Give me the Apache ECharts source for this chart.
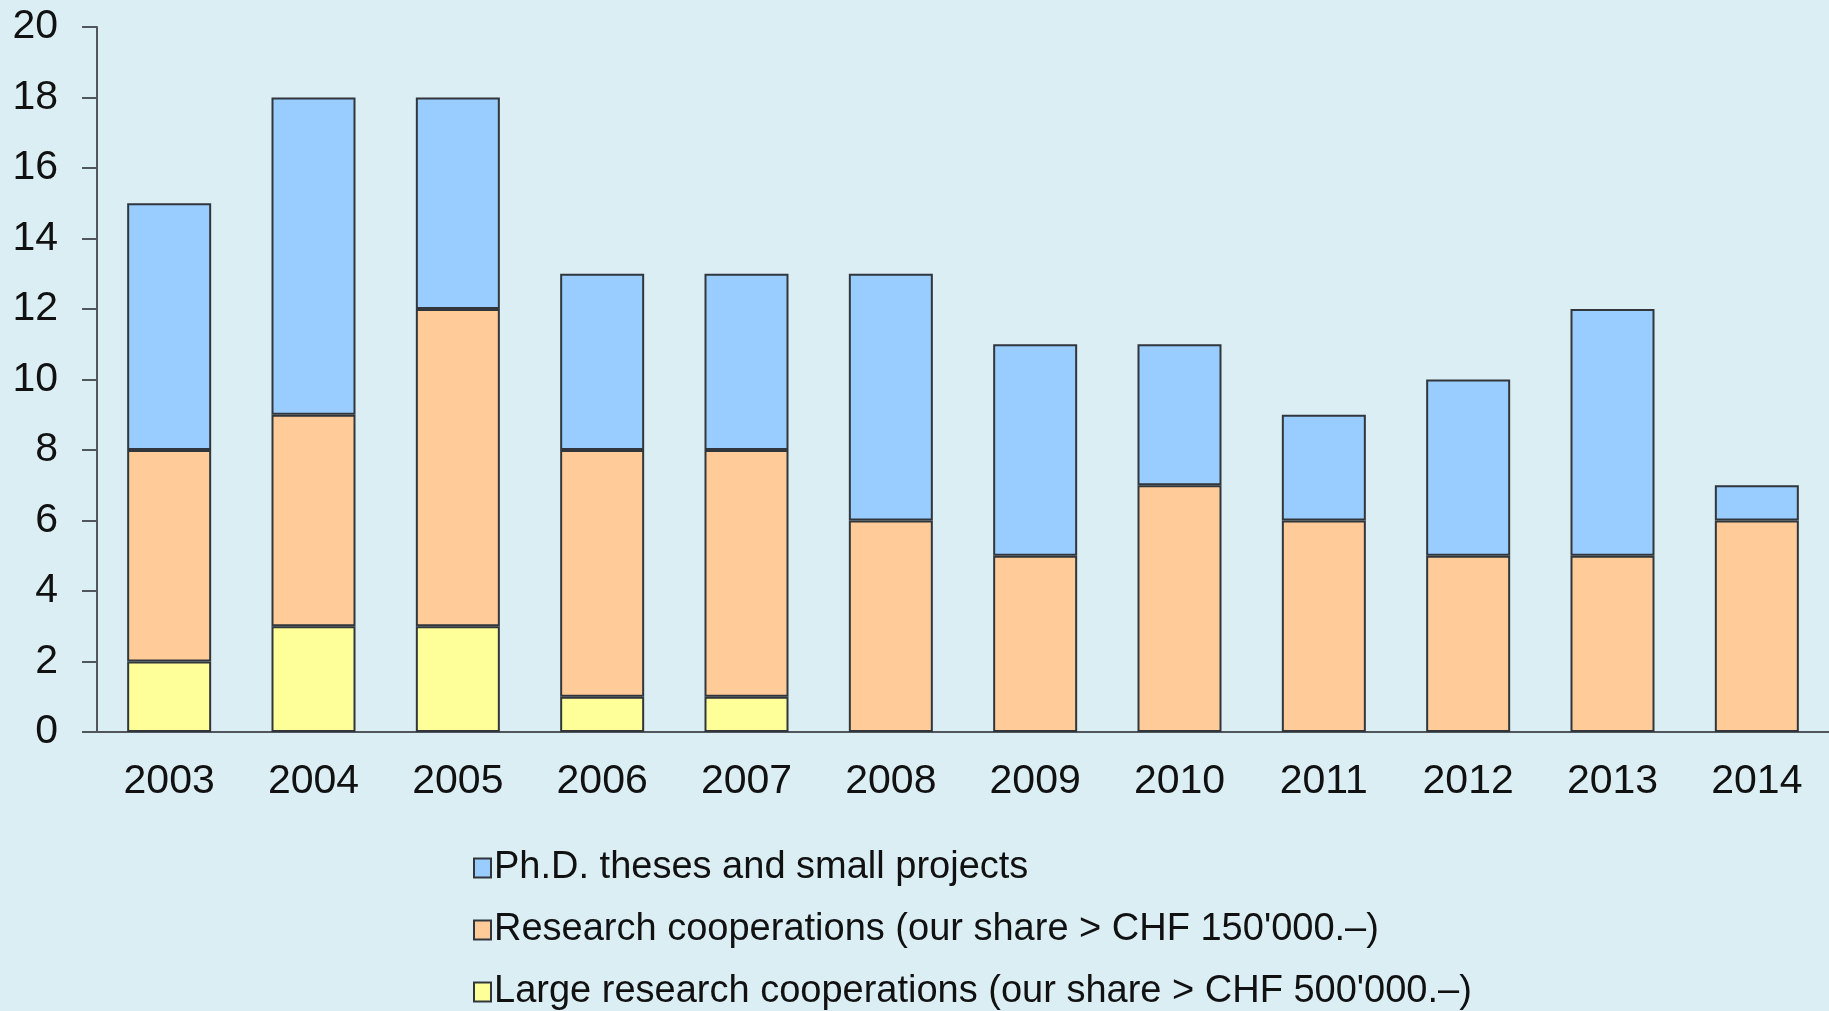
<!DOCTYPE html>
<html>
<head>
<meta charset="utf-8">
<script src="https://cdn.jsdelivr.net/npm/echarts@6/dist/echarts.min.js"></script>
<style>
html,body{margin:0;padding:0;background:#dbeef4;}
#chart{width:1829px;height:1011px;}
</style>
</head>
<body>
<div id="chart"></div>
<script>
const years = ['2003','2004','2005','2006','2007','2008','2009','2010','2011','2012','2013','2014'];
const largeCoop = [2,3,3,1,1,0,0,0,0,0,0,0];
const researchCoop = [6,6,9,7,7,6,5,7,6,5,5,6];
const phdSmall = [7,9,6,5,5,7,6,4,3,5,7,1];
const seriesNames = [
  'Ph.D. theses and small projects',
  'Research cooperations (our share > CHF 150\'000.\u2013)',
  'Large research cooperations (our share > CHF 500\'000.\u2013)'
];
const yTicks = {min:0, max:20, interval:2};

const chart = echarts.init(document.getElementById('chart'));
const border = {borderColor:'#30363b', borderWidth:2};
const nz = a => a.map(v => v === 0 ? null : v);
chart.setOption({
  backgroundColor:'#dbeef4',
  animation:false,
  textStyle:{fontFamily:'Liberation Sans, Arial, sans-serif'},
  grid:{left:97, top:27, height:705, width:1735},
  legend:{
    orient:'vertical', left:468, top:844, height:200,
    icon:'rect',
    itemWidth:17, itemHeight:19, itemGap:24,
    data:[seriesNames[0], seriesNames[1], seriesNames[2]],
    textStyle:{fontSize:38, color:'#111', padding:[0,0,0,-2]}
  },
  xAxis:{
    type:'category', data:years,
    axisLine:{lineStyle:{color:'#50565b', width:2}},
    axisTick:{length:13, lineStyle:{color:'#50565b', width:2}},
    axisLabel:{fontSize:41, color:'#111', margin:29}
  },
  yAxis:{
    type:'value', min:yTicks.min, max:yTicks.max, interval:yTicks.interval,
    splitLine:{show:false},
    axisLine:{show:true, lineStyle:{color:'#50565b', width:2}},
    axisTick:{show:true, length:15, lineStyle:{color:'#50565b', width:2}},
    axisLabel:{fontSize:41, color:'#111', margin:39, padding:[3,0,0,0]}
  },
  series:[
    {name:seriesNames[2], type:'bar', stack:'a', barWidth:84, data:nz(largeCoop), itemStyle:Object.assign({color:'#ffff99'}, border)},
    {name:seriesNames[1], type:'bar', stack:'a', barWidth:84, data:nz(researchCoop), itemStyle:Object.assign({color:'#ffcc99'}, border)},
    {name:seriesNames[0], type:'bar', stack:'a', barWidth:84, data:nz(phdSmall), itemStyle:Object.assign({color:'#99ccff'}, border)}
  ]
});
</script>
</body>
</html>
